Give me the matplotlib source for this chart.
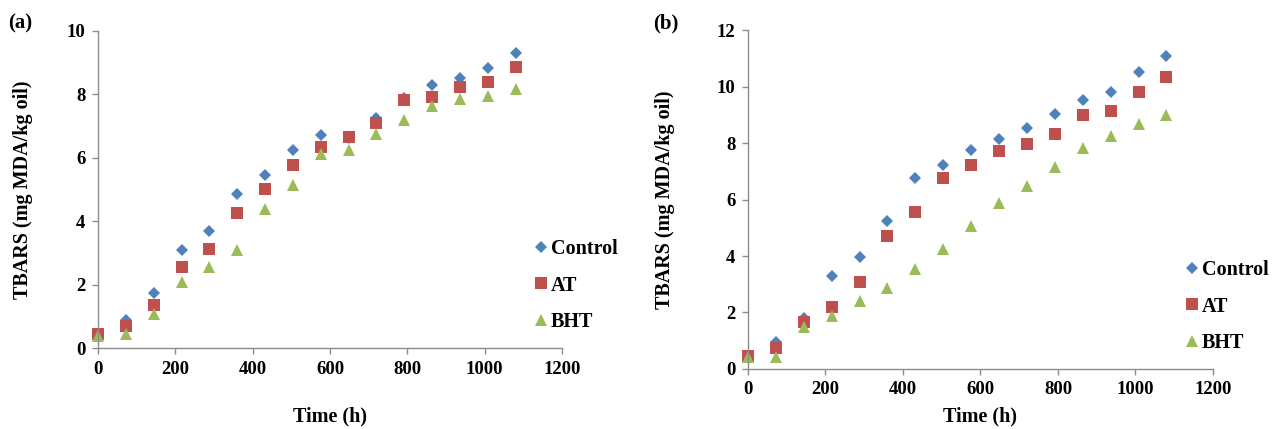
import numpy as np
import matplotlib.pyplot as plt

plt.rcParams['font.family'] = ['Liberation Serif', 'DejaVu Serif']
plt.rcParams['font.weight'] = 'bold'

# storage time (h)
time_h = [0, 72, 144, 216, 288, 360, 432, 504, 576, 648, 720, 792, 864, 936, 1008, 1080]

# panel (a)
control_a = [0.45, 0.89, 1.74, 3.09, 3.69, 4.87, 5.45, 6.23, 6.72, 6.62, 7.27, 7.90, 8.29, 8.53, 8.83, 9.30]
at_a = [0.45, 0.70, 1.35, 2.54, 3.13, 4.26, 5.03, 5.76, 6.34, 6.65, 7.09, 7.83, 7.91, 8.24, 8.38, 8.87]
bht_a = [0.39, 0.45, 1.07, 2.08, 2.57, 3.08, 4.37, 5.13, 6.13, 6.23, 6.75, 7.20, 7.64, 7.85, 7.96, 8.17]

# panel (b)
control_b = [0.47, 0.94, 1.82, 3.29, 3.98, 5.24, 6.76, 7.21, 7.76, 8.15, 8.53, 9.04, 9.53, 9.79, 10.51, 11.09]
at_b = [0.47, 0.76, 1.65, 2.20, 3.09, 4.71, 5.55, 6.76, 7.21, 7.71, 7.96, 8.32, 8.98, 9.14, 9.79, 10.33]
bht_b = [0.41, 0.41, 1.47, 1.88, 2.41, 2.88, 3.53, 4.24, 5.08, 5.86, 6.47, 7.15, 7.82, 8.24, 8.68, 8.98]

labels = ['Control', 'AT', 'BHT']
colors = ['#4F81BD', '#C0504D', '#9BBB59']
markers = ['D', 's', '^']
msizes = [6.5, 8.5, 8]

fig = plt.figure(figsize=(12.76, 4.29), dpi=100)

ax_a = fig.add_axes([0.0768, 0.1888, 0.3636, 0.739])
ax_b = fig.add_axes([0.5862, 0.1399, 0.3644, 0.790])


def draw_panel(ax, series, ymax, xlab_y, ylab_x, ylab_y, legend_xy):
    for vals, lab, col, mk, ms in zip(series, labels, colors, markers, msizes):
        ax.plot(time_h, vals, linestyle='none', marker=mk, markersize=ms,
                color=col, markeredgewidth=0, label=lab, clip_on=False)
    ax.set_xlim(0, 1200)
    ax.set_ylim(0, ymax)
    ax.set_xticks(np.arange(0, 1201, 200))
    ax.set_yticks(np.arange(0, ymax + 1, 2))
    for s in ['top', 'right']:
        ax.spines[s].set_visible(False)
    for s in ['left', 'bottom']:
        ax.spines[s].set_color('#8c8c8c')
        ax.spines[s].set_linewidth(1)
    ax.tick_params(direction='out', length=4, width=1, color='#8c8c8c',
                   labelsize=13.5, pad=5)
    ax.set_xlabel('Time (h)', fontsize=14.5, fontweight='bold')
    ax.set_ylabel('TBARS (mg MDA/kg oil)', fontsize=14.5, fontweight='bold')
    ax.xaxis.set_label_coords(0.5, xlab_y)
    ax.yaxis.set_label_coords(ylab_x, ylab_y)
    ax.legend(loc='upper left', bbox_to_anchor=legend_xy,
              bbox_transform=fig.transFigure, frameon=False,
              fontsize=14.5, handlelength=0.6, handletextpad=0.2,
              labelspacing=0.82, borderpad=0, borderaxespad=0)


draw_panel(ax_a, [control_a, at_a, bht_a], 10, -0.185, -0.14, 0.5,
           (535 / 1276, 1 - 239 / 429))
draw_panel(ax_b, [control_b, at_b, bht_b], 12, -0.11, -0.157, 0.5,
           (1186 / 1276, 1 - 260 / 429))

fig.text(8 / 1276, 1 - 23 / 429, '(a)', fontsize=15, fontweight='bold', va='center')
fig.text(653 / 1276, 1 - 23 / 429, '(b)', fontsize=15, fontweight='bold', va='center')

fig.savefig('out.png', dpi=100)
